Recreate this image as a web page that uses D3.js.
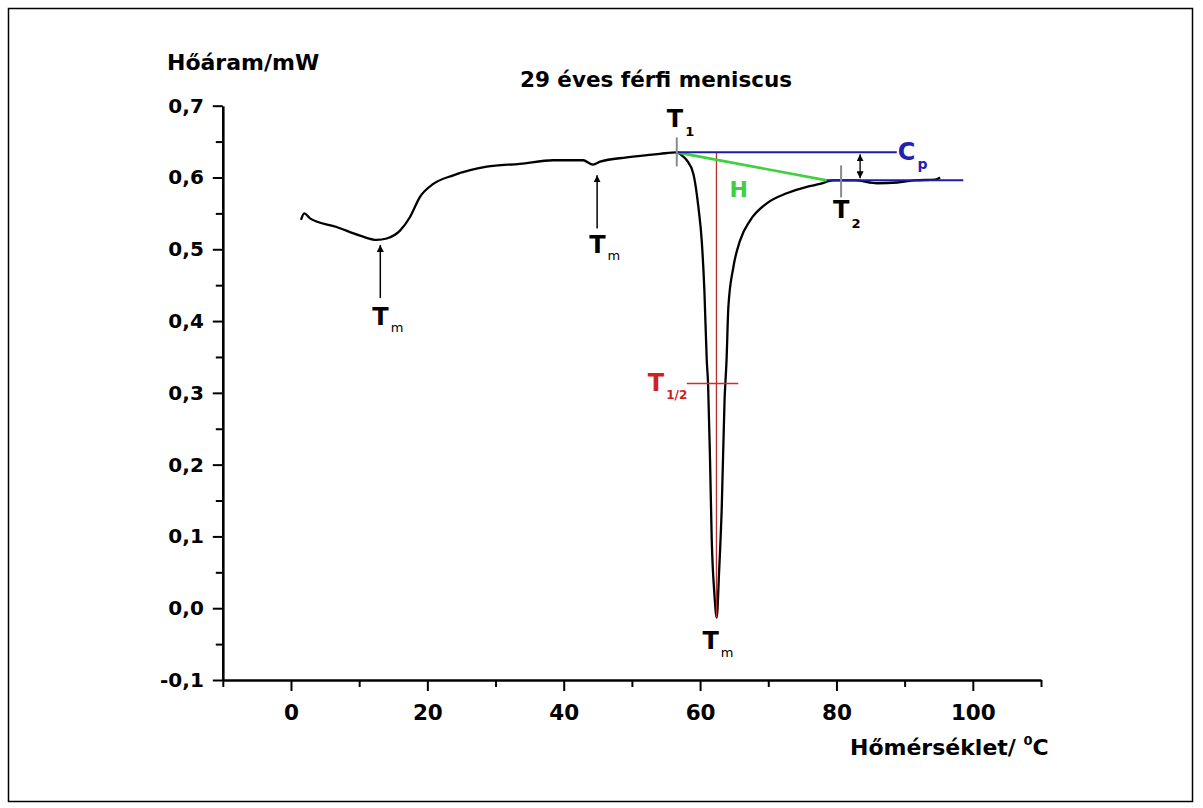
<!DOCTYPE html>
<html><head><meta charset="utf-8">
<script src="https://cdn.jsdelivr.net/npm/d3@7"></script>
<style>
body{margin:0;background:#fff}
svg{display:block}
text{font-family:"DejaVu Sans",sans-serif;font-weight:bold}
</style>
</head><body>
<svg id="c" width="1203" height="808"></svg>
<script>
// ---- data ----
const temperature = [1.47, 1.95, 2.79, 6.70, 10.12, 12.57, 14.04, 15.99, 17.46, 18.92, 20.87, 23.81, 28.71, 33.59, 38.43, 42.83, 44.30, 45.33, 49.25, 54.13, 56.58, 57.30, 58.05, 59.02, 59.75, 60.24, 60.63, 60.98, 61.17, 61.46, 61.71, 62.09, 62.44, 62.78, 63.18, 63.59, 63.88, 64.15, 64.88, 65.86, 67.33, 69.78, 72.71, 75.65, 77.60, 79.51, 82.73, 85.96, 88.90, 91.50, 94.47, 95.20];
const heatFlow    = [0.541, 0.550, 0.543, 0.531, 0.519, 0.513, 0.515, 0.526, 0.545, 0.573, 0.591, 0.603, 0.615, 0.619, 0.624, 0.624, 0.618, 0.622, 0.628, 0.633, 0.635, 0.631, 0.624, 0.605, 0.559, 0.512, 0.443, 0.345, 0.313, 0.206, 0.095, 0.021, -0.013, 0.049, 0.141, 0.290, 0.345, 0.420, 0.475, 0.512, 0.540, 0.564, 0.578, 0.587, 0.591, 0.596, 0.596, 0.592, 0.593, 0.596, 0.597, 0.600];
const xTicks = [0, 20, 40, 60, 80, 100];
const xMinorTicks = [-10, 10, 30, 50, 70, 90, 110];
const yTicks = [-0.1, 0.0, 0.1, 0.2, 0.3, 0.4, 0.5, 0.6, 0.7];
const yMinorTicks = [-0.05, 0.05, 0.15, 0.25, 0.35, 0.45, 0.55, 0.65];
const titleText = "29 éves férfi meniscus";
const yTitle = "Hőáram/mW";
const xTitle = "Hőmérséklet/ ";
// annotation values
const T1 = {t: 56.58, v: 0.635};
const T2 = {t: 80.68, v: 0.596};
const cpUpper = {t0: 56.58, t1: 88.85, v: 0.635};
const cpLower = {t0: 78.58, t1: 98.6, v: 0.596};
const cpArrowT = 83.47;
const peakT = 62.4, peakV = -0.013;
const half = {t0: 58.05, t1: 65.6, v: 0.313};
const tmArrows = [{t: 13.1, tip: 0.506, tail: 0.432}, {t: 44.9, tip: 0.603, tail: 0.529}];

// ---- drawing ----
const svg = d3.select("#c");
svg.append("rect").attr("x",8.5).attr("y",8.5).attr("width",1184).attr("height",793)
  .attr("fill","#fff").attr("stroke","#000").attr("stroke-width",1.5);

const x = d3.scaleLinear().domain([-10,110]).range([222.8,1041]);
const y = d3.scaleLinear().domain([-0.1,0.7]).range([680,105.7]);
const fmt = v => d3.format(".1f")(v).replace("\u2212","-").replace(".",",");

function styleAxis(g, size){
  g.attr("font-family","DejaVu Sans").attr("font-weight","bold").attr("font-size",size);
  g.selectAll("text").attr("fill","#000");
  g.selectAll("line").attr("stroke","#000").attr("stroke-width",2);
  g.select(".domain").attr("stroke","#000").attr("stroke-width",2.6);
}
// x axis
svg.append("g").attr("transform","translate(0,680)")
  .call(d3.axisBottom(x).tickValues(xMinorTicks).tickSize(7).tickFormat("").tickSizeOuter(0))
  .call(g=>{g.select(".domain").remove(); g.selectAll("line").attr("stroke","#000").attr("stroke-width",2);});
svg.append("g").attr("transform","translate(0,680)")
  .call(d3.axisBottom(x).tickValues(xTicks).tickSize(11).tickPadding(14).tickSizeOuter(0))
  .call(g=>styleAxis(g,21.5));
// y axis
svg.append("g").attr("transform","translate(222.8,0)")
  .call(d3.axisLeft(y).tickValues(yMinorTicks).tickSize(7).tickFormat("").tickSizeOuter(0))
  .call(g=>{g.select(".domain").remove(); g.selectAll("line").attr("stroke","#000").attr("stroke-width",2);});
svg.append("g").attr("transform","translate(222.8,0)")
  .call(d3.axisLeft(y).tickValues(yTicks).tickSize(10).tickPadding(9).tickFormat(fmt).tickSizeOuter(0))
  .call(g=>styleAxis(g,20));

// titles
svg.append("text").attr("x",167).attr("y",70).attr("font-size",22).text(yTitle);
svg.append("text").attr("x",656).attr("y",87).attr("text-anchor","middle").attr("font-size",21.5).text(titleText);
const xt = svg.append("text").attr("x",850).attr("y",755).attr("font-size",22);
xt.append("tspan").text(xTitle);
xt.append("tspan").attr("font-size",13).attr("dy",-10).text("0");
xt.append("tspan").attr("dy",10).text("C");

// markers
const defs = svg.append("defs");
defs.append("marker").attr("id","ah").attr("viewBox","0 0 10 10").attr("refX",10).attr("refY",5)
  .attr("markerWidth",7).attr("markerHeight",7).attr("markerUnits","userSpaceOnUse").attr("orient","auto-start-reverse")
  .append("path").attr("d","M0,0L10,5L0,10Z").attr("fill","#000");

// curve
const line = d3.line().x((d,i)=>x(temperature[i])).y((d,i)=>y(heatFlow[i])).curve(d3.curveMonotoneX);
svg.append("path").attr("d",line(temperature)).attr("fill","none").attr("stroke","#000")
  .attr("stroke-width",2.3).attr("stroke-linejoin","round");

// annotations: red vertical at peak
svg.append("line").attr("x1",x(peakT)).attr("x2",x(peakT)).attr("y1",y(cpUpper.v)).attr("y2",y(peakV))
  .attr("stroke","#b8302c").attr("stroke-width",1.3);
// half-height marker
svg.append("line").attr("x1",x(half.t0)).attr("x2",x(half.t1)).attr("y1",y(half.v)).attr("y2",y(half.v))
  .attr("stroke","#d8282a").attr("stroke-width",1.6);
// green H line
svg.append("line").attr("x1",x(T1.t)).attr("y1",y(T1.v)).attr("x2",x(cpLower.t0)).attr("y2",y(cpLower.v))
  .attr("stroke","#3fd03f").attr("stroke-width",2.6);
// blue lines
svg.append("line").attr("x1",x(cpUpper.t0)).attr("x2",x(cpUpper.t1)).attr("y1",y(cpUpper.v)).attr("y2",y(cpUpper.v))
  .attr("stroke","#1c1ca8").attr("stroke-width",2);
svg.append("line").attr("x1",x(cpLower.t0)).attr("x2",x(cpLower.t1)).attr("y1",y(cpLower.v)).attr("y2",y(cpLower.v))
  .attr("stroke","#1c1ca8").attr("stroke-width",2);
// gray ticks at T1 and T2
svg.append("line").attr("x1",x(T1.t)).attr("x2",x(T1.t)).attr("y1",y(T1.v)-15).attr("y2",y(T1.v)+14)
  .attr("stroke","#8a8a8a").attr("stroke-width",2);
svg.append("line").attr("x1",x(T2.t)).attr("x2",x(T2.t)).attr("y1",y(T2.v)-15).attr("y2",y(T2.v)+17)
  .attr("stroke","#8a8a8a").attr("stroke-width",2);
// Cp double arrow
svg.append("line").attr("x1",x(cpArrowT)).attr("x2",x(cpArrowT)).attr("y1",y(cpUpper.v)+2).attr("y2",y(cpLower.v)-2)
  .attr("stroke","#000").attr("stroke-width",1.3).attr("marker-start","url(#ah)").attr("marker-end","url(#ah)");
// Tm arrows
tmArrows.forEach(a=>{
  svg.append("line").attr("x1",x(a.t)).attr("x2",x(a.t)).attr("y1",y(a.tail)).attr("y2",y(a.tip))
    .attr("stroke","#000").attr("stroke-width",1.5).attr("marker-end","url(#ah)");
});

// labels
function label(px, py, main, sub, color, subSize, subWeight, subDy){
  const t = svg.append("text").attr("x",px).attr("y",py).attr("font-size",24).attr("fill",color);
  t.append("tspan").text(main);
  if(sub) t.append("tspan").attr("font-size",subSize).attr("font-weight",subWeight).attr("dx",2).attr("dy",subDy).text(sub);
}
label(x(tmArrows[0].t)-8, y(tmArrows[0].tail)+27, "T", "m", "#000", 13, "normal", 7);
label(x(tmArrows[1].t)-8, y(tmArrows[1].tail)+25, "T", "m", "#000", 13, "normal", 7);
label(x(peakT)-14, y(peakV)+31, "T", "m", "#000", 13, "normal", 8);
label(x(T1.t)-10, y(T1.v)-25, "T", "1", "#000", 13, "bold", 9);
label(x(T2.t)-8, y(T2.v)+38, "T", "2", "#000", 13, "bold", 10);
label(x(cpUpper.t1)+1, y(cpUpper.v)+8, "C", "p", "#2222b0", 14, "bold", 9);
label(x(half.t0)-39, y(half.v)+7, "T", "1/2", "#cc2222", 12, "bold", 8);
svg.append("text").attr("x",x(peakT)+13).attr("y",y(T1.v)+45).attr("font-size",22).attr("fill","#3fd03f").text("H");
</script>
</body></html>
